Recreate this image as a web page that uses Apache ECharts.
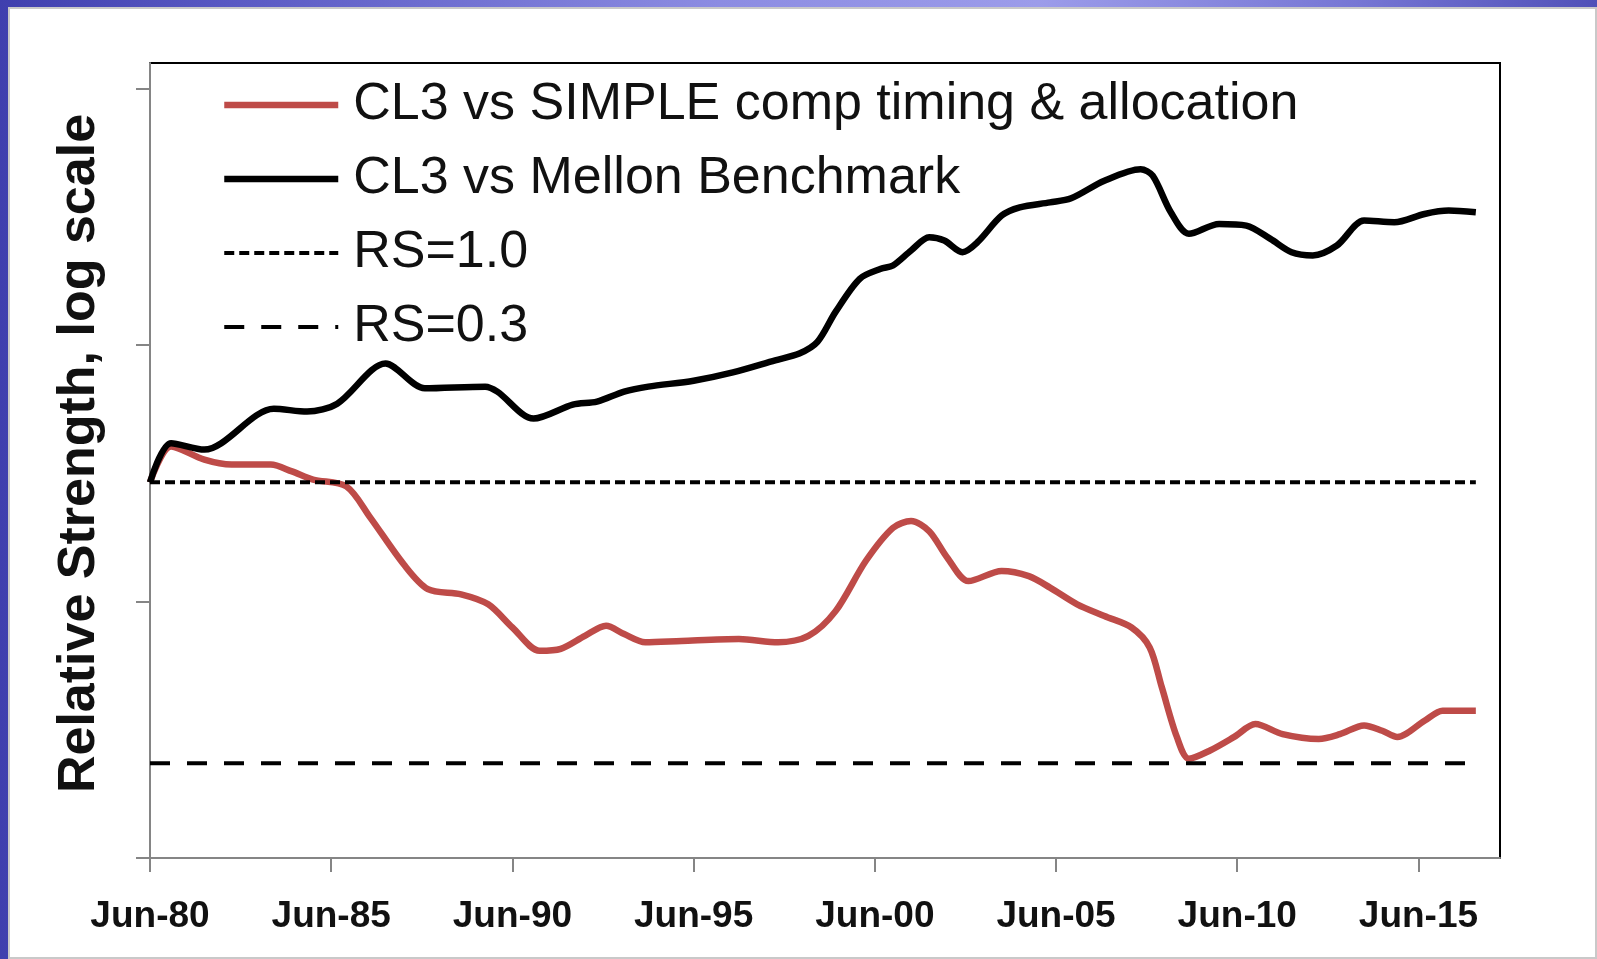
<!DOCTYPE html>
<html>
<head>
<meta charset="utf-8">
<script src="https://cdn.jsdelivr.net/npm/echarts@6/dist/echarts.min.js"></script>
<style>
  html, body { margin: 0; padding: 0; width: 1597px; height: 959px; overflow: hidden; }
  #frame { position: absolute; left: 0; top: 0; width: 1597px; height: 959px;
    background: linear-gradient(90deg, #3f3fae 0%, #5a5ac4 15%, #8c8ce2 45%, #9c9cea 65%, #7676d4 85%, #5050b8 100%); }
  #panel { position: absolute; left: 8px; top: 7px; width: 1589px; height: 952px; box-sizing: border-box;
    background: #ffffff; border: 2px solid #c9c9c9; }
  #chart { position: absolute; left: 0; top: 0; width: 1597px; height: 959px; }
</style>
</head>
<body>
<div id="frame"></div>
<div id="panel"></div>
<div id="chart"></div>
<script>
// x values: months since Jun-1980
const tickLabels = ['Jun-80', 'Jun-85', 'Jun-90', 'Jun-95', 'Jun-00', 'Jun-05', 'Jun-10', 'Jun-15'];
const yTickValues = [0.2, 0.6, 1.8, 5.4];

const simpleName = 'CL3 vs SIMPLE comp timing & allocation';
const simpleMonths = [0, 7, 18, 27, 40, 47, 54, 65, 73, 84, 92, 103, 112, 120, 129, 136, 144, 151, 157, 164, 176, 195, 208, 218, 227, 237, 246, 252, 258, 264, 271, 282, 291, 298, 307, 316, 325, 331, 335, 340, 344, 351, 359, 366, 375, 387, 394, 402, 408, 413, 422, 428, 439];
const simpleValues = [1.00, 1.166, 1.102, 1.079, 1.079, 1.048, 1.012, 0.983, 0.859, 0.704, 0.633, 0.619, 0.593, 0.537, 0.486, 0.490, 0.518, 0.541, 0.522, 0.504, 0.507, 0.511, 0.504, 0.518, 0.576, 0.714, 0.823, 0.847, 0.811, 0.724, 0.655, 0.684, 0.669, 0.637, 0.593, 0.564, 0.537, 0.493, 0.416, 0.336, 0.306, 0.317, 0.336, 0.355, 0.340, 0.333, 0.340, 0.353, 0.345, 0.336, 0.360, 0.376, 0.376];

const mellonName = 'CL3 vs Mellon Benchmark';
const mellonMonths = [0, 7, 18, 41, 52, 62, 78, 91, 111, 115, 127, 140, 148, 157, 165, 180, 193, 207, 215, 221, 227, 235, 242, 246, 252, 258, 263, 269, 274, 282, 288, 298, 305, 316, 328, 332, 338, 344, 354, 363, 371, 378, 385, 393, 402, 412, 422, 430, 439];
const mellonValues = [1.00, 1.183, 1.151, 1.371, 1.354, 1.401, 1.664, 1.496, 1.507, 1.475, 1.314, 1.395, 1.413, 1.475, 1.507, 1.546, 1.602, 1.687, 1.737, 1.826, 2.076, 2.392, 2.497, 2.533, 2.701, 2.858, 2.818, 2.681, 2.798, 3.136, 3.249, 3.319, 3.377, 3.641, 3.826, 3.720, 3.181, 2.900, 3.026, 3.005, 2.838, 2.681, 2.644, 2.759, 3.070, 3.048, 3.158, 3.204, 3.181];

const rsNames = ['RS=1.0', 'RS=0.3'];
const rsLevels = [1.0, 0.3];
const rsSpanMonths = [0, 439];

const pairs = (xs, ys) => xs.map((x, i) => [x, ys[i]]);
const tickMonths = tickLabels.map((_, i) => i * 60);

const chart = echarts.init(document.getElementById('chart'), null, { renderer: 'canvas' });
const axisGray = '#858585';
chart.setOption({
  backgroundColor: 'transparent',
  animation: false,
  grid: { left: 150, top: 63, right: 97, bottom: 101, show: true, borderColor: '#000', borderWidth: 2, backgroundColor: '#fff' },
  legend: {
    orient: 'vertical', left: 216, top: 69, itemWidth: 114, itemHeight: 20, itemGap: 12,
    data: [simpleName, mellonName, rsNames[0], rsNames[1]],
    itemStyle: { opacity: 0 },
    lineStyle: { width: 'inherit' },
    textStyle: { fontFamily: 'Liberation Sans', fontSize: 52, color: '#111', lineHeight: 62, padding: [0, 0, 0, 10] }
  },
  xAxis: {
    type: 'value', min: 0, max: 447,
    axisLine: { lineStyle: { color: axisGray, width: 2 } },
    axisTick: { customValues: tickMonths, length: 14, lineStyle: { color: axisGray, width: 2 } },
    axisLabel: { customValues: tickMonths, formatter: v => tickLabels[Math.round(v / 60)] || '',
      fontFamily: 'Liberation Sans', fontWeight: 'bold', fontSize: 37, color: '#111', margin: 40 },
    splitLine: { show: false }
  },
  yAxis: {
    type: 'log', logBase: 10, min: 0.2, max: 6.03,
    name: 'Relative Strength, log scale', nameLocation: 'middle', nameRotate: 90, nameGap: 44,
    nameTextStyle: { fontFamily: 'Liberation Sans', fontWeight: 'bold', fontSize: 52, color: '#111', padding: [0, 0, 0, 14] },
    axisLine: { show: true, lineStyle: { color: axisGray, width: 2 } },
    axisTick: { show: true, customValues: yTickValues, length: 14, lineStyle: { color: axisGray, width: 2 } },
    axisLabel: { show: false },
    splitLine: { show: false }
  },
  series: [
    { name: simpleName, type: 'line', data: pairs(simpleMonths, simpleValues), smooth: 0.3, symbol: 'none',
      lineStyle: { color: '#BE4B48', width: 6.5 }, itemStyle: { color: '#BE4B48' } },
    { name: mellonName, type: 'line', data: pairs(mellonMonths, mellonValues), smooth: 0.3, symbol: 'none',
      lineStyle: { color: '#000', width: 6.5 }, itemStyle: { color: '#000' } },
    { name: rsNames[0], type: 'line', data: rsSpanMonths.map(m => [m, rsLevels[0]]), symbol: 'none',
      lineStyle: { color: '#000', width: 4, type: [10, 5] }, itemStyle: { color: '#000' } },
    { name: rsNames[1], type: 'line', data: rsSpanMonths.map(m => [m, rsLevels[1]]), symbol: 'none',
      lineStyle: { color: '#000', width: 4, type: [20, 17] }, itemStyle: { color: '#000' } }
  ]
});
</script>
</body>
</html>
